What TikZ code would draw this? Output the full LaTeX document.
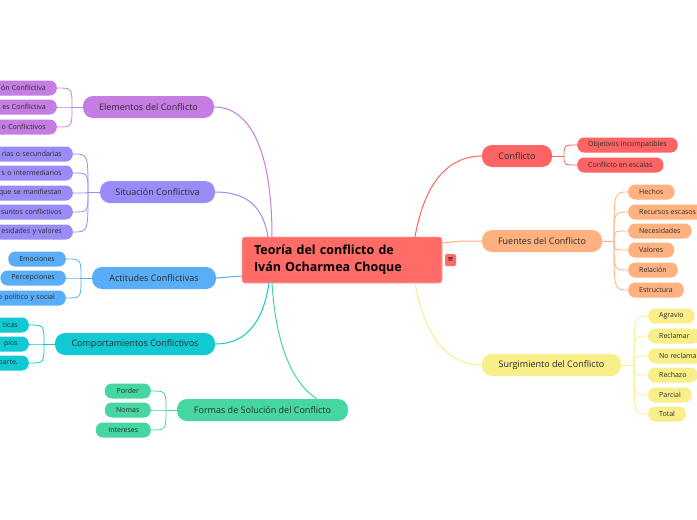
\documentclass[tikz,border=0pt]{standalone}
\usepackage{fontspec}
\setmainfont{Open Sans}
\newfontfamily\symfont{DejaVu Sans}
\definecolor{cmain}{HTML}{FF6B66}
\definecolor{cpur}{HTML}{C67DE3}
\definecolor{clav}{HTML}{9A8CF7}
\definecolor{cblu}{HTML}{5AAEF7}
\definecolor{ctea}{HTML}{10C9D3}
\definecolor{cgrn}{HTML}{45D6A2}
\definecolor{cred}{HTML}{FF6464}
\definecolor{corg}{HTML}{FFB27F}
\definecolor{cyel}{HTML}{F8EF8A}
\definecolor{ctxt}{HTML}{2A2A2A}
\begin{document}
\begin{tikzpicture}[x=1pt,y=-1pt,
  branch/.style={rounded corners=10pt, minimum height=22pt, inner sep=0pt, font=\fontsize{9}{10}\selectfont, text=ctxt},
  leaf/.style={rounded corners=7pt, minimum height=15pt, inner xsep=11pt, inner ysep=0pt, font=\fontsize{7}{8}\selectfont, text=ctxt},
  cutleaf/.style={leaf, anchor=east, text width=80pt, align=right},
  lk/.style={line width=1pt},
  sl/.style={line width=0.8pt}]
\useasboundingbox (0,0) rectangle (697,520);
\fill[white] (0,0) rectangle (697,520);

% main node
\node[fill=cmain, draw=cmain!60!white, line width=0.6pt, rounded corners=3pt, minimum width=200pt, minimum height=46pt, text width=176pt, align=left, inner sep=0pt, font=\fontsize{12.5}{17}\selectfont\bfseries, text=black] (main) at (342,260) {Teoría del conflicto de\\Iván Ocharmea Choque};
\node[fill=cmain, rounded corners=1.5pt, minimum width=11pt, minimum height=12pt, inner sep=0pt, font=\symfont\fontsize{7}{7}\selectfont] (icon) at (450.5,260) {≡};

% anchor coordinates on main
\coordinate (mE) at (272,237);
\coordinate (mS) at (268,237);
\coordinate (mA) at (242,276);
\coordinate (mC) at (269,283);
\coordinate (mF) at (272,283);
\coordinate (mK) at (415,237);
\coordinate (mU) at (442,243);
\coordinate (mG) at (415,283);

% branches
\node[branch, fill=cpur, minimum width=131pt] (E) at (148.5,107) {Elementos del Conflicto};
\node[branch, fill=clav, minimum width=115pt] (S) at (157.5,192) {Situación Conflictiva};
\node[branch, fill=cblu, minimum width=124pt] (A) at (154,278) {Actitudes Conflictivas};
\node[branch, fill=ctea, minimum width=160pt] (C) at (135,344) {Comportamientos Conflictivos};
\node[branch, fill=cgrn, minimum width=171pt] (F) at (262.5,410) {Formas de Solución del Conflicto};
\node[branch, fill=cred, minimum width=70pt] (K) at (517,156) {Conflicto};
\node[branch, fill=corg, minimum width=120pt] (U) at (542,241) {Fuentes del Conflicto};
\node[branch, fill=cyel, minimum width=139pt] (G) at (551.5,365) {Surgimiento del Conflicto};

% main connectors
\draw[lk, cpur] (mE) .. controls (272,150) and (250,107) .. (E.east);
\draw[lk, clav] (mS) .. controls (263,205) and (245,192) .. (S.east);
\draw[lk, cblu] (mA) .. controls (230,277) .. (A.east);
\draw[lk, ctea] (mC) .. controls (262,330) and (240,344) .. (C.east);
\draw[lk, cgrn] (mF) .. controls (276,350) and (295,385) .. (317,399);
\draw[lk, cred] (mK) .. controls (425,180) and (450,156) .. (K.west);
\draw[lk, corg] (mU) .. controls (460,241) .. (U.west);
\draw[lk, cyel] (mG) .. controls (425,340) and (450,365) .. (G.west);

% leaves: Elementos
\node[cutleaf, fill=cpur] (E1) at (57,88) {ón Conflictiva};
\node[cutleaf, fill=cpur] (E2) at (57,107) {es Conflictiva};
\node[cutleaf, fill=cpur] (E3) at (57,127) {o Conflictivos};
\coordinate (sE) at (72,107);
\draw[sl, cpur] (E.west) -- (sE);
\foreach \c in {E1,E2,E3} \draw[sl, cpur] (sE) .. controls (sE|-\c.east) .. (\c.east);

% Situacion
\node[cutleaf, fill=clav] (S1) at (73,154) {rias o secundarias};
\node[cutleaf, fill=clav] (S2) at (73,173) {s o intermediarios};
\node[cutleaf, fill=clav] (S3) at (73,193) {que se manifiestan};
\node[cutleaf, fill=clav] (S4) at (73,212) {suntos conflictivos};
\node[cutleaf, fill=clav] (S5) at (73,232) {esidades y valores};
\coordinate (sS) at (88,192);
\draw[sl, clav] (S.west) -- (sS);
\foreach \c in {S1,S2,S3,S4,S5} \draw[sl, clav] (sS) .. controls (sS|-\c.east) .. (\c.east);

% Actitudes
\node[leaf, fill=cblu, anchor=east] (A1) at (66,259) {Emociones};
\node[leaf, fill=cblu, anchor=east] (A2) at (66,278) {Percepciones};
\node[cutleaf, fill=cblu] (A3) at (66,298) {o político y social};
\coordinate (sA) at (81,278);
\draw[sl, cblu] (A.west) -- (sA);
\foreach \c in {A1,A2,A3} \draw[sl, cblu] (sA) .. controls (sA|-\c.east) .. (\c.east);

% Comportamientos
\node[cutleaf, fill=ctea] (C1) at (29,325) {ticas};
\node[cutleaf, fill=ctea] (C2) at (29,344) {pios};
\node[cutleaf, fill=ctea] (C3) at (29,363) {parte.};
\coordinate (sC) at (44,344);
\draw[sl, ctea] (C.west) -- (sC);
\foreach \c in {C1,C2,C3} \draw[sl, ctea] (sC) .. controls (sC|-\c.east) .. (\c.east);

% Formas
\node[leaf, fill=cgrn, anchor=east, minimum width=46pt, inner xsep=0pt] (F1) at (151,391) {Porder};
\node[leaf, fill=cgrn, anchor=east, minimum width=46pt, inner xsep=0pt] (F2) at (151,410) {Nomas};
\node[leaf, fill=cgrn, anchor=east, minimum width=55pt, inner xsep=0pt] (F3) at (151,430) {Intereses};
\coordinate (sF) at (166,410);
\draw[sl, cgrn] (F.west) -- (sF);
\foreach \c in {F1,F2,F3} \draw[sl, cgrn] (sF) .. controls (sF|-\c.east) .. (\c.east);

% Conflicto
\node[leaf, fill=cred, anchor=west] (K1) at (577,145) {Objetivos incompatibles};
\node[leaf, fill=cred, anchor=west] (K2) at (577,165) {Conflicto en escalas};
\coordinate (sK) at (564,156);
\draw[sl, cred] (K.east) -- (sK);
\foreach \c in {K1,K2} \draw[sl, cred] (sK) .. controls (sK|-\c.west) .. (\c.west);

% Fuentes
\node[leaf, fill=corg, anchor=west] (U1) at (628,192) {Hechos};
\node[leaf, fill=corg, anchor=west] (U2) at (628,212) {Recursos escasos};
\node[leaf, fill=corg, anchor=west] (U3) at (628,231) {Necesidades};
\node[leaf, fill=corg, anchor=west] (U4) at (628,250) {Valores};
\node[leaf, fill=corg, anchor=west] (U5) at (628,270) {Relación};
\node[leaf, fill=corg, anchor=west] (U6) at (628,290) {Estructura};
\coordinate (sU) at (614,241);
\draw[sl, corg] (U.east) -- (sU);
\foreach \c in {U1,U2,U3,U4,U5,U6} \draw[sl, corg] (sU) .. controls (sU|-\c.west) .. (\c.west);

% Surgimiento
\node[leaf, fill=cyel, anchor=west] (G1) at (648,316) {Agravio};
\node[leaf, fill=cyel, anchor=west] (G2) at (648,336) {Reclamar};
\node[leaf, fill=cyel, anchor=west] (G3) at (648,356) {No reclamar};
\node[leaf, fill=cyel, anchor=west] (G4) at (648,375) {Rechazo};
\node[leaf, fill=cyel, anchor=west] (G5) at (648,395) {Parcial};
\node[leaf, fill=cyel, anchor=west] (G6) at (648,414) {Total};
\coordinate (sG) at (634,365);
\draw[sl, cyel] (G.east) -- (sG);
\foreach \c in {G1,G2,G3,G4,G5,G6} \draw[sl, cyel] (sG) .. controls (sG|-\c.west) .. (\c.west);
\end{tikzpicture}
\end{document}
